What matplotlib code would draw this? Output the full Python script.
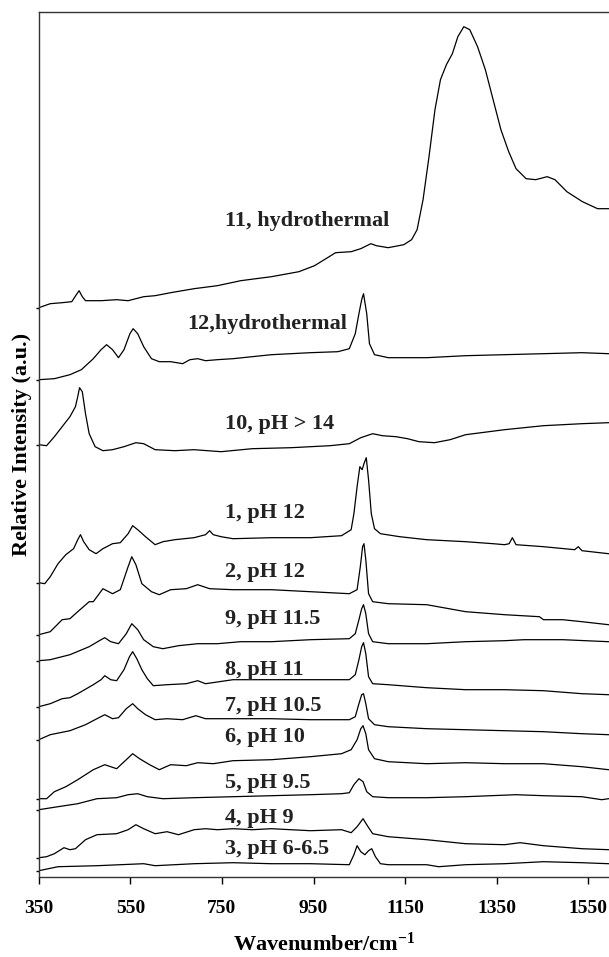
import matplotlib
matplotlib.use("Agg")
import matplotlib.pyplot as plt

# Raman spectra, stacked: wavenumber (cm-1), intensity above baseline, baseline offset
wn_11 = [350, 375, 401, 422, 432, 438, 445, 452, 486, 520, 545, 579, 604, 638, 689, 740, 791, 858,
         918, 952, 977, 998, 1032, 1053, 1075, 1087, 1113, 1147, 1164, 1176, 1189, 1202, 1215, 1227,
         1240, 1253, 1265, 1278, 1291, 1308, 1325, 1342, 1359, 1376, 1392, 1414, 1435, 1460, 1477,
         1503, 1537, 1570, 1595]
int_11 = [0, 4, 5, 6, 13, 17, 11, 7, 7, 8, 7, 11, 12, 15, 19, 22, 27, 31, 36, 42, 49, 55, 56, 59,
          64, 62, 60, 63, 68, 78, 108, 151, 198, 228, 243, 254, 271, 281, 278, 261, 238, 208, 178,
          156, 139, 129, 128, 131, 128, 116, 106, 99, 99]

wn_12 = [350, 384, 418, 443, 469, 486, 498, 511, 524, 536, 549, 556, 566, 579, 596, 613, 638, 664,
         680, 697, 714, 740, 774, 858, 943, 1003, 1028, 1041, 1049, 1055, 1059, 1066, 1072, 1083,
         1113, 1197, 1282, 1367, 1452, 1536, 1594]
int_12 = [0, 1, 5, 10, 21, 30, 35, 30, 22, 30, 46, 51, 46, 33, 21, 18, 18, 16, 20, 21, 19, 20, 21,
          25, 27, 28, 31, 46, 66, 80, 86, 66, 36, 25, 22, 22, 24, 25, 26, 27, 26]

wn_10 = [350, 367, 384, 401, 418, 430, 435, 439, 445, 452, 460, 473, 490, 511, 536, 562, 579, 604,
         647, 689, 748, 816, 901, 986, 1028, 1053, 1079, 1100, 1130, 1155, 1180, 1214, 1248, 1282,
         1367, 1452, 1536, 1594]
int_10 = [0, -1, 8, 18, 28, 38, 48, 57, 53, 31, 11, -2, -6, -5, -2, 2, 1, -5, -6, -5, -7, -4, -3,
          -1, 1, 7, 11, 9, 8, 6, 3, 2, 5, 10, 15, 19, 21, 22]

wn_1 = [350, 363, 375, 392, 409, 426, 435, 441, 448, 460, 475, 490, 511, 528, 545, 555, 566, 583,
        604, 621, 647, 689, 714, 723, 731, 748, 774, 858, 943, 1011, 1032, 1038, 1045, 1051, 1056,
        1060, 1065, 1070, 1076, 1083, 1096, 1138, 1197, 1282, 1342, 1367, 1377, 1384, 1392, 1452,
        1520, 1528, 1536, 1594]
int_1 = [0, -1, 6, 19, 28, 34, 43, 48, 41, 33, 29, 34, 39, 40, 49, 57, 53, 46, 38, 41, 43, 45, 48,
         52, 48, 46, 44, 45, 45, 47, 53, 69, 96, 116, 113, 119, 125, 103, 69, 54, 49, 46, 43, 41,
         39, 38, 39, 45, 38, 36, 33, 36, 32, 29]

wn_2 = [350, 375, 401, 418, 435, 460, 469, 490, 511, 528, 545, 553, 562, 575, 596, 613, 638, 672,
        697, 723, 774, 858, 943, 1028, 1045, 1052, 1057, 1060, 1064, 1070, 1079, 1113, 1197, 1282,
        1367, 1443, 1452, 1494, 1536, 1594]
int_2 = [0, 3, 15, 16, 23, 33, 33, 46, 41, 45, 68, 78, 70, 51, 43, 40, 45, 46, 50, 46, 45, 45, 43,
         41, 45, 68, 88, 91, 75, 41, 33, 31, 30, 23, 20, 18, 15, 15, 13, 10]

wn_9 = [350, 375, 418, 460, 486, 494, 507, 524, 541, 553, 566, 579, 600, 621, 655, 697, 740, 791,
        858, 943, 1028, 1041, 1049, 1055, 1059, 1064, 1070, 1079, 1113, 1197, 1282, 1367, 1409,
        1494, 1594]
int_9 = [0, 1, 6, 14, 21, 23, 19, 17, 27, 37, 31, 21, 14, 12, 15, 17, 17, 19, 19, 21, 22, 27, 41,
         52, 56, 47, 27, 19, 17, 17, 19, 20, 21, 21, 19]

wn_8 = [350, 375, 401, 418, 435, 469, 486, 494, 507, 520, 536, 548, 555, 564, 575, 587, 600, 630,
        672, 697, 714, 774, 858, 943, 1028, 1041, 1049, 1055, 1059, 1064, 1070, 1079, 1113, 1197,
        1282, 1367, 1452, 1536, 1594]
int_8 = [0, 3, 8, 9, 13, 22, 27, 31, 27, 26, 37, 50, 55, 48, 37, 28, 21, 22, 23, 26, 23, 27, 27,
         27, 27, 32, 47, 60, 64, 53, 30, 23, 22, 19, 17, 17, 16, 13, 12]

wn_7 = [350, 375, 418, 452, 477, 494, 511, 524, 541, 555, 566, 583, 604, 630, 664, 693, 714, 774,
        858, 943, 1028, 1041, 1049, 1055, 1059, 1064, 1070, 1083, 1113, 1197, 1282, 1367, 1452,
        1536, 1594]
int_7 = [0, 5, 9, 15, 21, 25, 21, 22, 31, 36, 31, 25, 20, 21, 20, 24, 21, 21, 21, 20, 20, 23, 36,
         45, 46, 36, 21, 15, 13, 11, 10, 9, 8, 6, 5]

wn_6 = [350, 367, 384, 409, 435, 469, 494, 520, 541, 555, 570, 592, 613, 638, 672, 697, 731, 774,
        858, 943, 1011, 1032, 1045, 1053, 1058, 1064, 1070, 1083, 1113, 1197, 1282, 1367, 1452,
        1536, 1594]
int_6 = [0, 0, 7, 12, 19, 29, 34, 30, 39, 45, 40, 34, 29, 34, 33, 36, 35, 38, 39, 42, 45, 49, 59,
         70, 73, 65, 49, 40, 37, 35, 36, 35, 35, 32, 29]

wn_5 = [350, 392, 435, 477, 520, 545, 566, 587, 621, 689, 774, 858, 943, 1011, 1028, 1038, 1049,
        1058, 1066, 1079, 1113, 1197, 1282, 1392, 1452, 1536, 1579, 1594]
int_5 = [0, 3, 6, 11, 12, 15, 16, 13, 11, 12, 13, 14, 15, 16, 17, 25, 31, 28, 18, 13, 12, 12, 13,
         15, 14, 13, 10, 11]

wn_4 = [350, 367, 384, 405, 418, 430, 452, 477, 520, 545, 562, 579, 604, 630, 655, 689, 714, 740,
        774, 816, 858, 943, 1011, 1032, 1045, 1058, 1066, 1079, 1113, 1197, 1282, 1367, 1401, 1452,
        1536, 1594]
int_4 = [0, 1, 4, 10, 8, 9, 18, 23, 24, 28, 33, 29, 24, 26, 23, 28, 29, 28, 29, 28, 29, 27, 28,
         25, 31, 39, 33, 24, 21, 18, 14, 13, 15, 12, 9, 8]

wn_3 = [350, 392, 477, 579, 604, 689, 774, 858, 943, 1028, 1038, 1045, 1053, 1062, 1070, 1077,
        1085, 1096, 1113, 1197, 1223, 1282, 1367, 1452, 1536, 1594]
int_3 = [0, 4, 5, 7, 5, 7, 8, 7, 7, 6, 16, 25, 19, 16, 20, 22, 14, 7, 6, 6, 4, 6, 7, 9, 8, 7]

labels = ["11, hydrothermal", "12,hydrothermal", "10, pH > 14", "1, pH 12", "2, pH 12",
          "9, pH 11.5", "8, pH 11", "7, pH 10.5", "6, pH 10", "5, pH 9.5", "4, pH 9", "3, pH 6-6.5"]
offsets = [569, 497, 432, 294, 242, 216, 170, 137, 78, 67, 19, 6]
spectra = [(wn_11, int_11), (wn_12, int_12), (wn_10, int_10), (wn_1, int_1), (wn_2, int_2),
           (wn_9, int_9), (wn_8, int_8), (wn_7, int_7), (wn_6, int_6), (wn_5, int_5),
           (wn_4, int_4), (wn_3, int_3)]

# where each label sits (x in cm-1, y in plot units)
label_x = [757, 674, 757, 757, 757, 757, 757, 757, 757, 757, 757, 757]
label_y = [656, 553, 453, 364, 305, 258, 207, 171, 140, 94, 59, 28]

plt.rcParams["font.family"] = ["Liberation Serif", "DejaVu Serif"]
plt.rcParams["font.weight"] = "bold"
plt.rcParams["mathtext.fontset"] = "custom"
plt.rcParams["mathtext.rm"] = "Liberation Serif:bold"
plt.rcParams["mathtext.bf"] = "Liberation Serif:bold"
plt.rcParams["mathtext.default"] = "bf"

fig = plt.figure(figsize=(6.09, 9.57), dpi=100)
ax = fig.add_axes([0.0637, 0.0839, 0.9363, 0.9039])

for (wn, inten), off in zip(spectra, offsets):
    ax.plot(wn, [v + off for v in inten], color="black", lw=0.9)

for txt, x, y in zip(labels, label_x, label_y):
    ax.text(x, y, txt, fontsize=16, fontweight="bold", ha="left", va="center", color="#222222")

ax.set_xlim(350, 1595)
ax.set_ylim(0, 865)
ax.set_xticks([350, 550, 750, 950, 1150, 1350, 1550])
ax.set_yticks(offsets)
ax.set_yticklabels([])
ax.tick_params(axis="x", direction="out", length=5, width=1, pad=12, labelsize=14)
ax.tick_params(axis="y", direction="out", length=2.5, width=1)
for lbl in ax.get_xticklabels():
    lbl.set_fontweight("bold")
ax.spines["right"].set_visible(False)
for s in ["left", "top", "bottom"]:
    ax.spines[s].set_linewidth(1.0)
    ax.spines[s].set_color("#333333")

ax.set_xlabel("Wavenumber/cm$^{-1}$", fontsize=16, fontweight="bold", labelpad=11)
ax.set_ylabel("Relative Intensity (a.u.)", fontsize=16, fontweight="bold")
ax.yaxis.set_label_coords(-0.012, 0.5)

fig.savefig("out.png", dpi=100)
